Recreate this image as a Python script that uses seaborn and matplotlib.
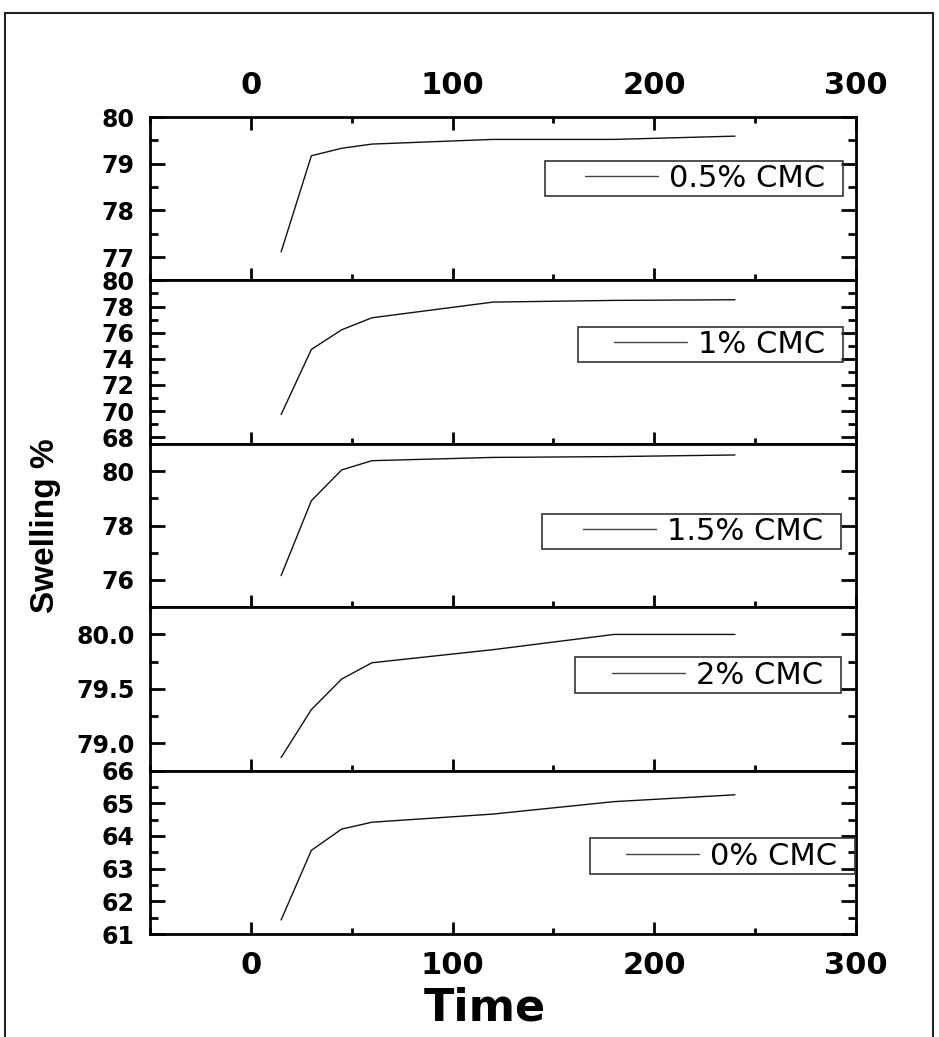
import matplotlib
matplotlib.use("Agg")
import matplotlib.pyplot as plt
from matplotlib.patches import Rectangle
from matplotlib.ticker import MultipleLocator, FormatStrFormatter
import seaborn as sns

# data (time in min, swelling in %)
time_min = [15, 30, 45, 60, 120, 180, 240]

swelling_05 = [77.11, 79.17, 79.33, 79.42, 79.52, 79.52, 79.59]
swelling_1 = [69.74, 74.72, 76.22, 77.14, 78.34, 78.47, 78.52]
swelling_15 = [76.16, 78.91, 80.04, 80.38, 80.50, 80.53, 80.59]
swelling_2 = [78.87, 79.31, 79.59, 79.74, 79.86, 80.00, 80.00]
swelling_0 = [61.43, 63.56, 64.21, 64.42, 64.67, 65.05, 65.26]

series_labels = ["0.5% CMC", "1% CMC", "1.5% CMC", "2% CMC", "0% CMC"]
series_values = [swelling_05, swelling_1, swelling_15, swelling_2, swelling_0]

# axis ranges per panel: (ymin, ymax, major step, minor step, format)
y_axes = [
    (76.5, 80, 1, 0.5, "%d"),
    (67.5, 80, 2, 1, "%d"),
    (75, 81, 2, 1, "%d"),
    (78.75, 80.25, 0.5, 0.25, "%.1f"),
    (61, 66, 1, 0.5, "%d"),
]

# legend boxes in axes fraction: (x0, y0, width, height)
legend_boxes = [
    (0.560, 0.517, 0.422, 0.214),
    (0.606, 0.501, 0.376, 0.214),
    (0.555, 0.356, 0.424, 0.214),
    (0.602, 0.475, 0.377, 0.220),
    (0.623, 0.367, 0.376, 0.220),
]

sns.set_style("ticks")
plt.rcParams["font.family"] = ["DejaVu Sans"]
plt.rcParams["font.weight"] = "bold"
plt.rcParams["text.color"] = "black"
plt.rcParams["axes.labelcolor"] = "black"

fig, axes = plt.subplots(5, 1, figsize=(9.39, 10.37), dpi=100, sharex=True)
fig.subplots_adjust(left=150 / 939, right=856 / 939,
                    top=1 - 117 / 1037, bottom=1 - 934 / 1037, hspace=0)

for i, ax in enumerate(axes):
    sns.lineplot(x=time_min, y=series_values[i], ax=ax, color="#111111",
                 linewidth=1.0, label=series_labels[i])

    ymin, ymax, major, minor, fmt = y_axes[i]
    ax.set_ylim(ymin, ymax)
    ax.set_xlim(-50, 300)
    ax.yaxis.set_major_locator(MultipleLocator(major))
    ax.yaxis.set_minor_locator(MultipleLocator(minor))
    ax.yaxis.set_major_formatter(FormatStrFormatter(fmt))
    ax.xaxis.set_major_locator(MultipleLocator(100))
    ax.xaxis.set_minor_locator(MultipleLocator(50))
    ax.set_xlabel("")
    ax.set_ylabel("")

    for sp in ax.spines.values():
        sp.set_linewidth(2)
        sp.set_color("black")

    ax.tick_params(axis="both", which="both", direction="in", width=2, colors="black")
    ax.tick_params(axis="y", which="major", length=11, left=True, right=True,
                   pad=11, labelsize=17)
    ax.tick_params(axis="y", which="minor", length=6, left=True, right=True)
    ax.tick_params(axis="x", which="major", length=9, bottom=True, top=False,
                   labelbottom=False, pad=12, labelsize=22)
    ax.tick_params(axis="x", which="minor", length=4.5, bottom=True, top=False)

    # legend inside a plain box, text pushed to the right
    bx, by, bw, bh = legend_boxes[i]
    leg = ax.legend(loc="center right", bbox_to_anchor=(bx + bw - 0.026, by + bh / 2),
                    frameon=False, prop={"size": 22, "weight": "normal"},
                    handlelength=2.4, handletextpad=0.35,
                    borderpad=0, borderaxespad=0)
    for h in leg.legend_handles:
        h.set_color("#444444")
    for t in leg.get_texts():
        t.set_color("black")
    ax.add_patch(Rectangle((bx, by), bw, bh, transform=ax.transAxes, fill=False,
                           edgecolor="#333333", linewidth=1.2, zorder=5))

axes[0].tick_params(axis="x", which="both", top=True, labeltop=True)
axes[-1].tick_params(axis="x", which="major", labelbottom=True)

axes[-1].set_xlabel("Time", fontsize=32, fontweight="bold", va="top", color="black")
axes[-1].xaxis.set_label_coords(0.4745, -0.32)

fig.text(46 / 939, 1 - 526 / 1037, "Swelling %", rotation=90, ha="center",
         va="center", fontsize=24, fontweight="bold", family="Liberation Sans",
         color="black")

# outer frame around the picture
fig.patches.append(Rectangle((5 / 939, -0.01), 928 / 939, 1.01 - 13 / 1037,
                             transform=fig.transFigure, fill=False,
                             edgecolor="#222222", linewidth=1.5))

plt.savefig("out.png", dpi=100)
